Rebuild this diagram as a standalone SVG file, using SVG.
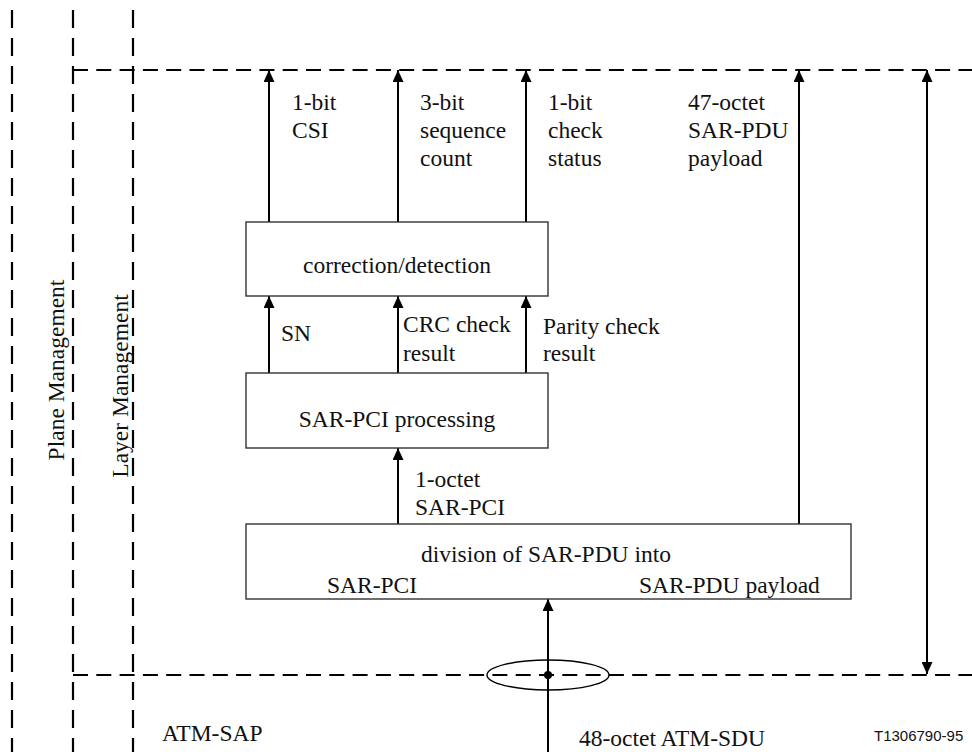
<svg xmlns="http://www.w3.org/2000/svg" width="972" height="752" viewBox="0 0 972 752">
<style>
text{font-family:'Liberation Serif','Times New Roman','DejaVu Serif',serif;font-size:23.5px;fill:#111}
text.s{font-family:'Liberation Sans',Arial,sans-serif;font-size:15px}
.box{fill:#fff;stroke:#333;stroke-width:1.4}
.vd{stroke:#000;stroke-width:2.2;stroke-dasharray:18 10;fill:none}
.hd{stroke:#000;stroke-width:2.2;stroke-dasharray:15 8.3;fill:none}
.ar{stroke:#000;stroke-width:2;fill:none;marker-end:url(#ah)}
</style>
<defs>
<marker id="ah" markerUnits="userSpaceOnUse" markerWidth="12" markerHeight="11" refX="12" refY="5.5" orient="auto-start-reverse" viewBox="0 0 12 11">
<path d="M0,0 L12,5.5 L0,11 z" fill="#000"/>
</marker>
</defs>
<rect width="972" height="752" fill="#fff"/>
<g id="boundaries">
<line class="vd" x1="12" y1="10" x2="12" y2="752"/>
<line class="vd" x1="73" y1="10" x2="73" y2="752"/>
<line class="vd" x1="133" y1="10" x2="133" y2="752"/>
<line class="hd" x1="73" y1="70" x2="972" y2="70"/>
<line class="hd" x1="73" y1="675" x2="972" y2="675"/>
<text font-family="Liberation Serif, serif" transform="translate(64,370) rotate(-90)" text-anchor="middle">Plane Management</text>
<text font-family="Liberation Serif, serif" transform="translate(128,386) rotate(-90)" text-anchor="middle">Layer Management</text>
<text x="162" y="741">ATM-SAP</text>
</g>
<g id="connectors">
<line class="ar" x1="269" y1="222" x2="269" y2="70"/>
<line class="ar" x1="398" y1="222" x2="398" y2="70"/>
<line class="ar" x1="526" y1="222" x2="526" y2="70"/>
<line class="ar" x1="269" y1="373" x2="269" y2="296"/>
<line class="ar" x1="398" y1="373" x2="398" y2="296"/>
<line class="ar" x1="526" y1="373" x2="526" y2="296"/>
<line class="ar" x1="398" y1="524" x2="398" y2="448"/>
<line class="ar" x1="799" y1="524" x2="799" y2="70"/>
<line class="ar" x1="548" y1="752" x2="548" y2="599"/>
<line stroke="#000" stroke-width="2" x1="927" y1="70" x2="927" y2="674" marker-start="url(#ah)" marker-end="url(#ah)"/>
<ellipse cx="548" cy="675" rx="61" ry="15" fill="none" stroke="#000" stroke-width="1.4"/>
<circle cx="548" cy="675" r="4" fill="#000"/>
<text x="292" y="110">1-bit</text>
<text x="292" y="138">CSI</text>
<text x="420" y="110">3-bit</text>
<text x="420" y="138">sequence</text>
<text x="420" y="166">count</text>
<text x="548" y="110">1-bit</text>
<text x="548" y="138">check</text>
<text x="548" y="166">status</text>
<text x="688" y="110">47-octet</text>
<text x="688" y="138">SAR-PDU</text>
<text x="688" y="166">payload</text>
<text x="281" y="341">SN</text>
<text x="403" y="332">CRC check</text>
<text x="403" y="361">result</text>
<text x="543" y="334">Parity check</text>
<text x="543" y="361">result</text>
<text x="415" y="487">1-octet</text>
<text x="415" y="515">SAR-PCI</text>
<text x="579" y="746">48-octet ATM-SDU</text>
<text class="s" x="874" y="741">T1306790-95</text>
</g>
<g id="correction">
<rect class="box" x="246" y="222" width="302" height="74"/>
<text x="397" y="273" text-anchor="middle">correction/detection</text>
</g>
<g id="sarpci">
<rect class="box" x="246" y="373" width="302" height="75"/>
<text x="397" y="427" text-anchor="middle">SAR-PCI processing</text>
</g>
<g id="division">
<rect class="box" x="246" y="524" width="605" height="75"/>
<text x="546" y="562" text-anchor="middle">division of SAR-PDU into</text>
<text x="327" y="593">SAR-PCI</text>
<text x="639" y="593">SAR-PDU payload</text>
</g>
</svg>
